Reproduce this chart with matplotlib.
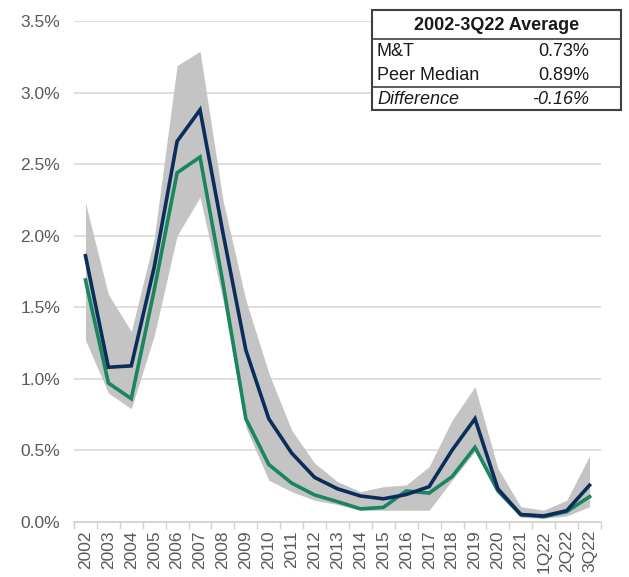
import matplotlib
matplotlib.use("Agg")
import matplotlib.pyplot as plt
from matplotlib.patches import Rectangle
from matplotlib.lines import Line2D
import numpy as np

categories = ['2002', '2003', '2004', '2005', '2006', '2007', '2008', '2009', '2010',
              '2011', '2012', '2013', '2014', '2015', '2016', '2017', '2018', '2019',
              '2020', '2021', '1Q22', '2Q22', '3Q22']
mt = [1.86, 1.08, 1.09, 1.78, 2.66, 2.88, 2.02, 1.20, 0.72, 0.48, 0.31, 0.23, 0.18,
      0.16, 0.19, 0.245, 0.50, 0.72, 0.23, 0.05, 0.04, 0.077, 0.255]
peer_median = [1.69, 0.97, 0.86, 1.62, 2.44, 2.55, 1.67, 0.72, 0.40, 0.27, 0.187, 0.14,
               0.09, 0.10, 0.215, 0.20, 0.315, 0.52, 0.215, 0.05, 0.035, 0.07, 0.175]
peer_high = [2.23, 1.59, 1.33, 1.98, 3.19, 3.29, 2.25, 1.55, 1.04, 0.64, 0.41, 0.28, 0.21,
             0.245, 0.257, 0.385, 0.71, 0.944, 0.373, 0.105, 0.08, 0.15, 0.46]
peer_low = [1.27, 0.90, 0.79, 1.30, 2.00, 2.27, 1.55, 0.66, 0.29, 0.21, 0.15, 0.12, 0.08,
            0.08, 0.08, 0.08, 0.29, 0.49, 0.20, 0.03, 0.024, 0.04, 0.105]
yticks = [0.0, 0.5, 1.0, 1.5, 2.0, 2.5, 3.0, 3.5]

table_title = '2002-3Q22 Average'
table_rows = [('M&T', '0.73%'), ('Peer Median', '0.89%'), ('Difference', '-0.16%')]

plt.rcParams['font.family'] = ['Liberation Sans', 'DejaVu Sans']

W, H = 629, 577
fig = plt.figure(figsize=(W / 100, H / 100), dpi=100)
ax = fig.add_axes([74 / W, (H - 521.7) / H, (601 - 74) / W, (521.7 - 21.2) / H])

x = np.arange(len(categories))
navy = '#0b2d5b'
green = '#1a8660'
band = '#c4c4c4'

ax.fill_between(x, peer_low, peer_high, color=band, linewidth=0, zorder=1)
ax.plot(x, peer_median, color=green, linewidth=2.6, zorder=3, solid_joinstyle='miter')
ax.plot(x, mt, color=navy, linewidth=2.6, zorder=4, solid_joinstyle='miter')

ax.set_xlim(-0.5, len(categories) - 0.5)
ax.set_ylim(0, 3.5)
ax.set_yticks(yticks)
ax.set_yticklabels([f'{v:.1f}%' for v in yticks])
ax.yaxis.grid(True, color='#d9d9d9', linewidth=1.2, zorder=0)
ax.set_axisbelow(True)

ax.set_xticks(x)
ax.set_xticklabels(categories, rotation=90)
ax.set_xticks(np.arange(len(categories) + 1) - 0.5, minor=True)
ax.tick_params(axis='x', which='major', length=0, pad=6, labelsize=12.5, labelcolor='#595959')
ax.tick_params(axis='x', which='minor', length=5, width=1, color='#d0d0d0')
ax.tick_params(axis='y', length=0, pad=10, labelsize=12.5, labelcolor='#595959')

for s in ['top', 'right', 'left']:
    ax.spines[s].set_visible(False)
ax.spines['bottom'].set_color('#d0d0d0')
ax.spines['bottom'].set_linewidth(1.2)

# summary table
def fx(px):
    return px / W

def fy(py):
    return (H - py) / H

left, right, top, bottom = 372, 621, 10, 110
fig.patches.append(Rectangle((fx(left), fy(bottom)), fx(right) - fx(left), fy(top) - fy(bottom),
                             transform=fig.transFigure, facecolor='white', edgecolor='#404040',
                             linewidth=1.5, zorder=10))
for yy in (39, 87):
    fig.lines.append(Line2D([fx(left), fx(right)], [fy(yy), fy(yy)], transform=fig.transFigure,
                            color='#404040', linewidth=1.2, zorder=11))
fig.text(fx((left + right) / 2), fy(25), table_title, ha='center', va='center',
         fontsize=13, fontweight='bold', color='#1a1a1a', zorder=12)
row_y = [51.5, 76, 100]
for (lab, val), yy in zip(table_rows, row_y):
    style = 'italic' if lab == 'Difference' else 'normal'
    fig.text(fx(377), fy(yy), lab, ha='left', va='center', fontsize=13, style=style,
             color='#1a1a1a', zorder=12)
    fig.text(fx(589), fy(yy), val, ha='right', va='center', fontsize=13, style=style,
             color='#1a1a1a', zorder=12)

fig.savefig('out.png', dpi=100, facecolor='white')
